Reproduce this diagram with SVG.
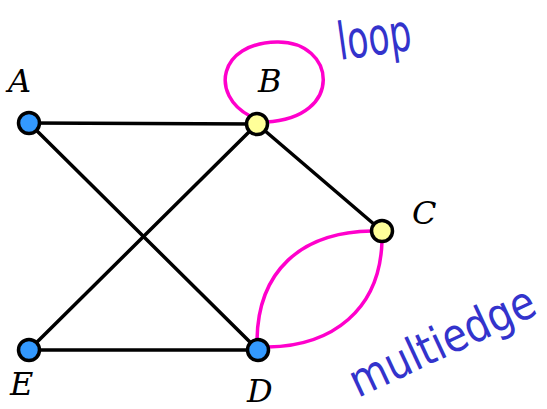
<svg xmlns="http://www.w3.org/2000/svg" width="547" height="409" viewBox="0 0 547 409">
<style>
.e{stroke:#000;stroke-width:3.5;fill:none;stroke-linecap:round}
.m{stroke:#ff00cc;stroke-width:3.5;fill:none}
.n{stroke:#000;stroke-width:3.5}
.b{fill:#3399ff}
.y{fill:#ffff99}
.l{font-family:"DejaVu Serif","Liberation Serif",serif;font-style:italic;font-size:32px;fill:#000}
.h{font-family:"DejaVu Sans","Liberation Sans",sans-serif;fill:#3333cc}
</style>
<rect width="547" height="409" fill="#fff"/>
<g id="connectors">
<line class="e" x1="29" y1="123" x2="257" y2="124"/>
<line class="e" x1="29" y1="123" x2="258" y2="350"/>
<line class="e" x1="257" y1="124" x2="29" y2="350"/>
<line class="e" x1="257" y1="124" x2="382" y2="231"/>
<line class="e" x1="29" y1="350" x2="258" y2="350"/>
<path class="m" d="M250,116 C210,95 218,43 277,42 C336,41 345,118 266,122"/>
<path class="m" d="M257,340 C258,272 300,232 372,231"/>
<path class="m" d="M382,241 C380,310 332,346 268,347"/>
</g>
<g id="A"><circle class="n b" cx="29" cy="123" r="10.5"/><text class="l" x="8" y="92">A</text></g>
<g id="B"><circle class="n y" cx="257" cy="124" r="10.5"/><text class="l" x="258" y="92">B</text></g>
<g id="C"><circle class="n y" cx="382" cy="231" r="10.5"/><text class="l" x="412" y="224">C</text></g>
<g id="D"><circle class="n b" cx="258" cy="350" r="10.5"/><text class="l" x="247" y="402">D</text></g>
<g id="E"><circle class="n b" cx="29" cy="350" r="10.5"/><text class="l" x="10" y="395">E</text></g>
<text class="h" font-size="52" transform="translate(340,60) rotate(-8)" textLength="74" lengthAdjust="spacingAndGlyphs">loop</text>
<text class="h" font-size="46" transform="translate(358,398) rotate(-25)" textLength="200" lengthAdjust="spacingAndGlyphs">multiedge</text>
</svg>
